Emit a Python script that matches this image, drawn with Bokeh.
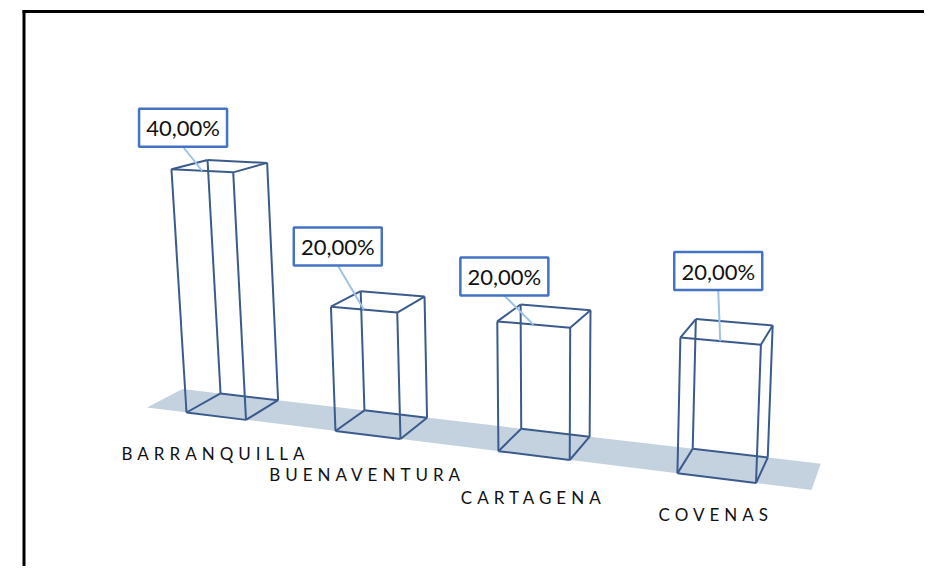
import numpy as np
from bokeh.plotting import figure
from bokeh.models import Range1d, CustomJS, InlineStyleSheet
from bokeh.document import Document
from bokeh.events import DocumentReady
from bokeh.embed import file_html
from bokeh.resources import INLINE
from bokeh.core.properties import value

# ---- data ----
categories = ["BARRANQUILLA", "BUENAVENTURA", "CARTAGENA", "COVENAS"]
shares = [40.0, 20.0, 20.0, 20.0]          # percent
value_labels = [f"{v:.2f}".replace(".", ",") + "%" for v in shares]

# ---- 3D camera (homogeneous projection; columns: category axis, value axis (per %), depth, origin) ----
CAM = np.array([[134.6, -0.545, 43.7, 186.0],
                [0.0, -6.25, -1.76, 412.0],
                [-0.0429, -0.000992, 0.0439, 1.0]])
BAR_W = 0.41
FLOOR_X = (-0.28, 3.69)

def project(x, y, z):
    h = CAM @ np.array([x, y, z, 1.0])
    return float(h[0] / h[2]), float(h[1] / h[2])

# styles / layout offsets
BOX_COLOR = "#3b5b8c"
FLOOR_COLOR = "#c4d2e0"
LABEL_BORDER = "#4472c4"
LEADER_COLOR = "#9dc3e6"
label_off = [(-19, -43), (-26, -63), (-29, -48), (-2, -70)]
cat_dy = [37, 40, 42, 36]
LS = 5.0  # letter spacing of category names (px)

W, H = 924, 566
p = figure(width=W, height=H, output_backend="svg", toolbar_location=None,
           x_range=Range1d(0, W), y_range=Range1d(H, 0), min_border=0)
p.axis.visible = False
p.grid.visible = False
p.outline_line_color = None
p.background_fill_color = "white"
p.border_fill_color = "white"

# floor band
fx, fy = [], []
for (x, z) in [(FLOOR_X[0], 0), (FLOOR_X[1], 0), (FLOOR_X[1], 1), (FLOOR_X[0], 1)]:
    u, v = project(x, 0, z)
    fx.append(u); fy.append(v)
p.patch(fx, fy, fill_color=FLOOR_COLOR, line_color=None)

# wireframe boxes
xs, ys = [], []
for i, val in enumerate(shares):
    x0 = i
    corners = {}
    for dx in (0, 1):
        for dy in (0, 1):
            for dz in (0, 1):
                corners[(dx, dy, dz)] = project(x0 + dx * BAR_W, dy * val, dz)
    keys = list(corners.keys())
    for a in keys:
        for b in keys:
            if a < b and sum(abs(a[k] - b[k]) for k in range(3)) == 1:
                xs.append([corners[a][0], corners[b][0]])
                ys.append([corners[a][1], corners[b][1]])
p.multi_line(xs, ys, line_color=BOX_COLOR, line_width=2)

# data labels with leader lines
lx, ly = [], []
seg = dict(x0=[], y0=[], x1=[], y1=[])
for i, val in enumerate(shares):
    mx, my = project(i + BAR_W / 2, val, 0)
    cx, cy = mx + label_off[i][0], my + label_off[i][1]
    lx.append(cx); ly.append(cy)
    seg["x0"].append(cx); seg["y0"].append(cy + 19)
    seg["x1"].append(mx); seg["y1"].append(my)
p.segment(seg["x0"], seg["y0"], seg["x1"], seg["y1"], line_color=LEADER_COLOR, line_width=2)
p.rect(lx, ly, width=88, height=38, width_units="screen", height_units="screen",
       fill_color="white", line_color=LABEL_BORDER, line_width=2.5)
p.text(lx, ly, text=value_labels, text_font=value("Lato"), text_font_size="22px",
       text_align="center", text_baseline="middle", text_color="#111111")

# category labels
cx_, cy_ = [], []
for i, name in enumerate(categories):
    u, v = project(i + BAR_W / 2, 0, 0)
    cx_.append(u - 3 - len(name) * LS / 2 + LS / 2)
    cy_.append(v + cat_dy[i])
p.text(cx_, cy_, text=categories, text_font=value("Lato"), text_font_size="17px",
       text_align="center", text_baseline="middle", text_color="#111111")

# chart frame (top and left edges visible)
p.segment([22, 23.5], [11, 10], [W, 23.5], [11, H], line_color="black", line_width=3)

css = 'text[font-size="17px"]{letter-spacing:%spx;}' % LS
p.stylesheets = [InlineStyleSheet(css=css)]

doc = Document()
doc.add_root(p)
doc.js_on_event(DocumentReady, CustomJS(args=dict(css=css), code="""
function inject(root){
  root.querySelectorAll('*').forEach(el => {
    if (el.shadowRoot){
      if (!el.shadowRoot.querySelector('style[data-ls]')){
        const s = document.createElement('style');
        s.setAttribute('data-ls', '1');
        s.textContent = css;
        el.shadowRoot.appendChild(s);
      }
      inject(el.shadowRoot);
    }
  });
}
inject(document);
setTimeout(() => inject(document), 50);
setTimeout(() => inject(document), 300);
"""))

open("out.html", "w").write(file_html(p, INLINE))
